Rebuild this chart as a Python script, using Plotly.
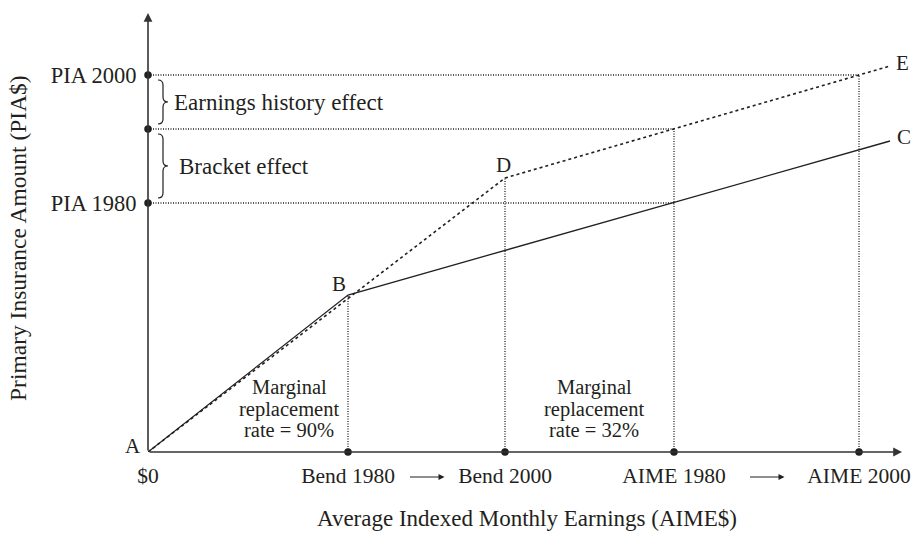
import plotly.graph_objects as go

# ---------------- data ----------------
x_tick_vals = [0, 200, 357, 526, 711]
x_tick_text = ["$0", "Bend 1980", "Bend 2000", "AIME 1980", "AIME 2000"]
y_tick_vals = [249, 323, 377]
y_tick_text = ["PIA 1980", "", "PIA 2000"]

# PIA formula schedules (A-B-C for 1980, A-D-E for 2000)
sched1980_x = [0, 200, 742]
sched1980_y = [0, 157, 311]
sched2000_x = [0, 357, 742]
sched2000_y = [0, 274, 386]

# guide lines: (x on axis, y reached)
vertical_guides = [(200, 157), (357, 274), (526, 323), (711, 377)]
horizontal_guides = [(377, 711), (323, 526), (249, 526)]

effect_labels = ["Earnings history effect", "Bracket effect"]
rate_lines = [["Marginal", "replacement", "rate = 90%"],
              ["Marginal", "replacement", "rate = 32%"]]
rate_label_x = [141, 446]

X_MAX, Y_MAX = 760, 442
INK = "#231f20"
FONT = "Liberation Serif, Times New Roman, serif"

fig = go.Figure()

# dotted guides
for gx, gy in vertical_guides:
    fig.add_shape(type="line", x0=gx, x1=gx, y0=0, y1=gy,
                  line=dict(color=INK, width=1.3, dash="1px,1.5px"))
for gy, gx in horizontal_guides:
    fig.add_shape(type="line", x0=0, x1=gx, y0=gy, y1=gy,
                  line=dict(color=INK, width=1.3, dash="1px,1.5px"))

# schedules
fig.add_trace(go.Scatter(x=sched1980_x, y=sched1980_y, mode="lines",
                         line=dict(color=INK, width=1.3), hoverinfo="skip",
                         showlegend=False))
fig.add_trace(go.Scatter(x=sched2000_x, y=sched2000_y, mode="lines",
                         line=dict(color=INK, width=1.6, dash="3px,3px"),
                         hoverinfo="skip", showlegend=False))

# dots on axes
fig.add_trace(go.Scatter(x=x_tick_vals[1:], y=[0] * (len(x_tick_vals) - 1),
                         mode="markers", marker=dict(color=INK, size=7.5),
                         cliponaxis=False, hoverinfo="skip", showlegend=False))
fig.add_trace(go.Scatter(x=[0] * len(y_tick_vals), y=y_tick_vals,
                         mode="markers", marker=dict(color=INK, size=7.5),
                         cliponaxis=False, hoverinfo="skip", showlegend=False))

# axes with arrows
fig.add_annotation(x=X_MAX - 6, y=0, ax=0, ay=0, xref="x", yref="y",
                   axref="x", ayref="y", showarrow=True, arrowhead=2,
                   arrowsize=1.1, arrowwidth=1.6, arrowcolor="#333", text="")
fig.add_annotation(x=0, y=Y_MAX - 3, ax=0, ay=0, xref="x", yref="y",
                   axref="x", ayref="y", showarrow=True, arrowhead=2,
                   arrowsize=1.1, arrowwidth=1.6, arrowcolor="#333", text="")

# small arrows between tick labels (below the plot area -> paper y)
ARROW_Y = -25 / Y_MAX
for a, b in [(x_tick_vals[1], x_tick_vals[2]), (x_tick_vals[3], x_tick_vals[4])]:
    mid = (a + b) / 2
    fig.add_annotation(x=mid + 18, y=ARROW_Y, ax=mid - 18, ay=0, xref="x", yref="paper",
                       axref="x", ayref="pixel", showarrow=True, arrowhead=2,
                       arrowsize=1, arrowwidth=1.2, arrowcolor=INK, text="")

# point labels
pts = [
    ("A", sched1980_x[0], sched1980_y[0], -15, 6),
    ("B", sched1980_x[1], sched1980_y[1], -9, 11),
    ("C", sched1980_x[2], sched1980_y[2], 14, 4),
    ("D", sched2000_x[1], sched2000_y[1], -2, 13),
    ("E", sched2000_x[2], sched2000_y[2], 12, 3),
]
for name, px, py, dx, dy in pts:
    fig.add_annotation(x=px, y=py, text=name, showarrow=False, xshift=dx, yshift=dy,
                       font=dict(family=FONT, size=21, color=INK))

# braces
def brace_path(x0, w, ytop, ybot):
    xm = x0 + w / 2
    ym = (ytop + ybot) / 2
    r = 5
    return (f"M {x0},{ytop} Q {xm},{ytop} {xm},{ytop - r} L {xm},{ym + r} "
            f"Q {xm},{ym} {x0 + w},{ym} Q {xm},{ym} {xm},{ym - r} "
            f"L {xm},{ybot + r} Q {xm},{ybot} {x0},{ybot}")

spans = [(y_tick_vals[2], y_tick_vals[1]), (y_tick_vals[1], y_tick_vals[0])]
for (ytop, ybot), label, lx in zip(spans, effect_labels, [24, 29]):
    fig.add_shape(type="path", path=brace_path(10, 10, ytop - 5, ybot + 5),
                  line=dict(color=INK, width=1.2))
    fig.add_annotation(x=lx, y=(ytop + ybot) / 2, text=label, showarrow=False,
                       xanchor="left", font=dict(family=FONT, size=23, color=INK))

# marginal replacement rate notes (one annotation per line for tight leading)
for lx, lines in zip(rate_label_x, rate_lines):
    for ly, txt in zip([65, 43, 22], lines):
        fig.add_annotation(x=lx, y=ly, text=txt, showarrow=False,
                           font=dict(family=FONT, size=20.5, color=INK))

# axis titles (outside plot area -> paper coordinates on one side)
fig.add_annotation(x=0.5 * (312 + 742) - 148, y=-66 / Y_MAX, xref="x", yref="paper",
                   xanchor="center", yanchor="middle",
                   text="Average Indexed Monthly Earnings (AIME$)", showarrow=False,
                   font=dict(family=FONT, size=23, color=INK))
fig.add_annotation(x=-130 / X_MAX, y=214, xref="paper", yref="y", textangle=-90,
                   xanchor="center", yanchor="middle",
                   text="Primary Insurance Amount (PIA$)", showarrow=False,
                   font=dict(family=FONT, size=23.5, color=INK))

fig.update_layout(
    width=911, height=533,
    margin=dict(l=148, r=3, t=10, b=81, autoexpand=False),
    paper_bgcolor="white", plot_bgcolor="white",
    xaxis=dict(range=[0, X_MAX], tickvals=x_tick_vals, ticktext=x_tick_text,
               showgrid=False, zeroline=False, showline=False, automargin=False,
               ticks="outside", ticklen=4, tickcolor="rgba(0,0,0,0)",
               ticklabeloverflow="allow",
               tickfont=dict(family=FONT, size=21.5, color=INK), fixedrange=True),
    yaxis=dict(range=[0, Y_MAX], tickvals=y_tick_vals, ticktext=y_tick_text,
               showgrid=False, zeroline=False, showline=False, automargin=False,
               ticks="outside", ticklen=6, tickcolor="rgba(0,0,0,0)",
               tickfont=dict(family=FONT, size=22.5, color=INK), fixedrange=True),
    showlegend=False,
)

fig.write_html("out.html", config={"displayModeBar": False},
               post_script="document.body.style.margin='0px';"
                           "document.body.style.overflow='hidden';")
